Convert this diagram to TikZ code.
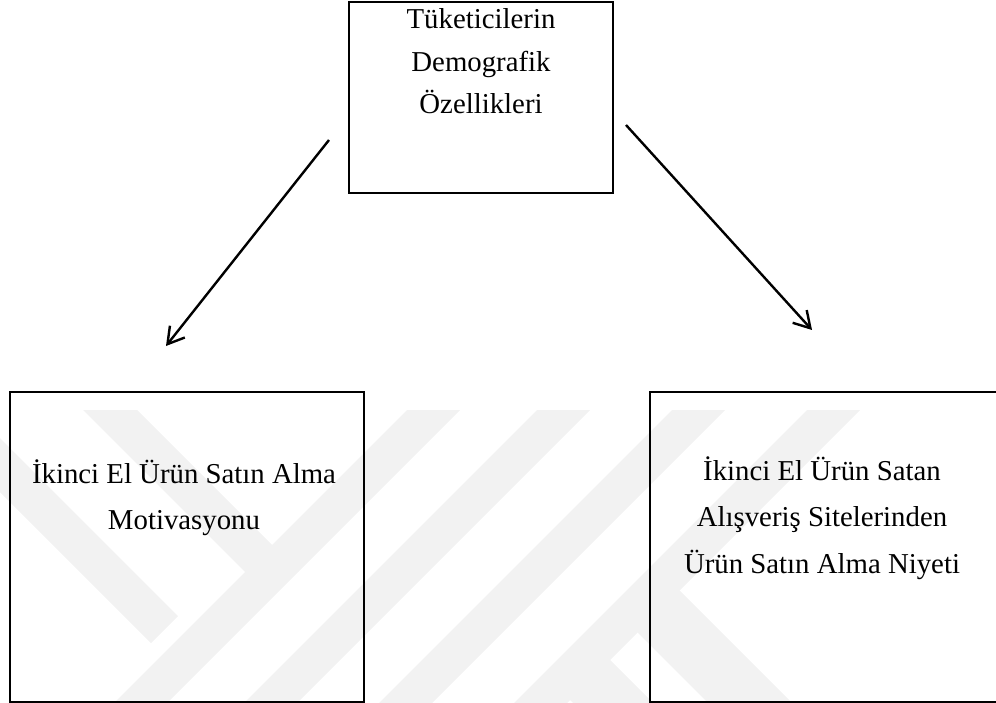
\documentclass[tikz,border=0pt]{standalone}
\usepackage{fontspec}
\setmainfont{Liberation Serif}
\usetikzlibrary{arrows.meta}
\begin{document}
\begin{tikzpicture}[x=1pt,y=-1pt,
  boxnode/.style={draw, line width=2.6pt, inner sep=0pt},
  boxtext/.style={align=center, inner sep=0pt, anchor=base},
  conn/.style={line width=2.4pt, -{Straight Barb[length=16pt,width=19pt]}},
  wm/.style={fill=black!5, draw=none}]
\useasboundingbox (0,0) rectangle (996,703);
% faint watermark
\begin{scope}
\clip (0,410) rectangle (996,703);
\fill[wm] (407,410) -- (460,410) -- (60,810) -- (7,810) -- cycle;
\fill[wm] (537,410) -- (590,410) -- (190,810) -- (137,810) -- cycle;
\fill[wm] (672,410) -- (725,410) -- (325,810) -- (272,810) -- cycle;
\fill[wm] (807,410) -- (860,410) -- (460,810) -- (407,810) -- cycle;
\fill[wm] (83,410) -- (137,410) -- (298.5,571.5) -- (245,572) -- cycle;
\fill[wm] (0,438) -- (178,616) -- (151,643) -- (0,492) -- cycle;
\fill[wm] (634,629) -- (676,587) -- (889,800) -- (805,800) -- cycle;
\fill[wm] (606.5,656.5) -- (750,800) -- (670,800) -- (566.5,696.5) -- cycle;
\end{scope}
% boxes
\node[boxnode, minimum width=264pt, minimum height=191pt] (top) at (481,97.5) {};
\node[boxnode, minimum width=354pt, minimum height=310pt] (left) at (187,547) {};
\node[boxnode, minimum width=348pt, minimum height=310pt] (right) at (824,547) {};
% texts (anchor base = baseline of last line)
\node[boxtext, font=\fontsize{28.8}{42.5}\selectfont] (toptext) at (481,114) {Tüketicilerin\\Demografik\\Özellikleri};
\node[boxtext, font=\fontsize{28.8}{46}\selectfont] (lefttext) at (184,529) {İkinci El Ürün Satın Alma\\Motivasyonu};
\node[boxtext, font=\fontsize{28.8}{46.5}\selectfont] (righttext) at (822,573) {İkinci El Ürün Satan\\Alışveriş Sitelerinden\\Ürün Satın Alma Niyeti};
% arrows
\coordinate (ls) at (329,140);
\coordinate (le) at (166,346);
\coordinate (rs) at (626,125);
\coordinate (re) at (812,330);
\draw[conn] (ls) -- (le);
\draw[conn] (rs) -- (re);
\end{tikzpicture}
\end{document}
